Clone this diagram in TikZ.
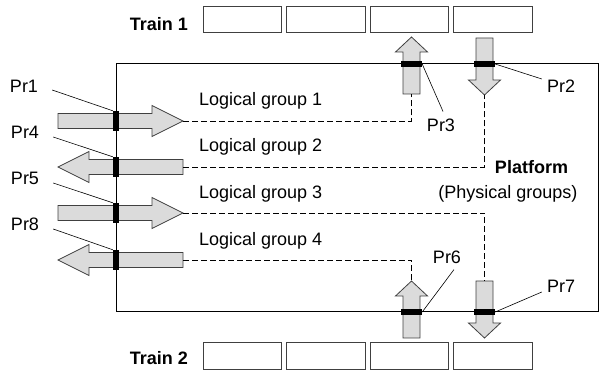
\documentclass[tikz,border=0pt]{standalone}
\usepackage{fontspec}
\setmainfont{Liberation Sans}
\usetikzlibrary{positioning}

\begin{document}
\begin{tikzpicture}[x=1pt, y=-1pt, font=\fontsize{18}{21}\selectfont]
        \tikzset{car/.style = {draw=black!75, line width=1pt, minimum width=78.5pt, minimum height=26.5pt, inner sep=0pt, outer sep=0pt}}
        \tikzset{blk/.style = {draw=black!75, fill=black!14, line width=0.8pt}}
        \tikzset{hport/.style = {fill=black, inner sep=0pt, minimum width=6pt, minimum height=20pt}}
        \tikzset{vport/.style = {fill=black, inner sep=0pt, minimum width=21pt, minimum height=6pt}}
        \tikzset{lbl/.style = {inner sep=0pt}}
        \tikzset{lead/.style = {line width=0.6pt}}
        \tikzset{link/.style = {dash pattern=on 6pt off 3pt, line width=0.8pt}}
        \tikzset{harrow/.pic = {
            \draw[blk] (0,-7.5) -- (94,-7.5) -- (94,-15.5) -- (125,0) -- (94,15.5) -- (94,7.5) -- (0,7.5) -- cycle;
            \coordinate (-tail) at (0,0);
            \coordinate (-tip) at (125,0);}}
        \tikzset{varrow/.pic = {
            \draw[blk] (0,-8.5) -- (42,-8.5) -- (42,-16) -- (57,0) -- (42,16) -- (42,8.5) -- (0,8.5) -- cycle;
            \coordinate (-tail) at (0,0);
            \coordinate (-tip) at (57,0);}}
        \useasboundingbox (0,0) rectangle (600,371);
        % trains
        \node[lbl, anchor=base east] (train1) at (188,31) {\bfseries Train 1};
        \node[car] (t1a) at (242.25,19.75) {};
        \node[car, right=5pt of t1a] (t1b) {};
        \node[car, right=5pt of t1b] (t1c) {};
        \node[car, right=5pt of t1c] (t1d) {};
        \node[lbl, anchor=base east] (train2) at (188,365) {\bfseries Train 2};
        \node[car] (t2a) at (242.25,356) {};
        \node[car, right=5pt of t2a] (t2b) {};
        \node[car, right=5pt of t2b] (t2c) {};
        \node[car, right=5pt of t2c] (t2d) {};
        % platform
        \node[draw, line width=1pt, inner sep=0pt, outer sep=0pt, minimum width=482pt, minimum height=248pt] (plat) at (357,188) {};
        \node[lbl, anchor=base] (platname) at (531.5,174) {\bfseries Platform};
        \node[lbl, anchor=base] (physgrp) at (508,199) {(Physical groups)};
        % block arrows
        \pic (a1) at (58,121) {harrow};
        \pic[rotate=180] (a4) at (183,167) {harrow};
        \pic (a5) at (58,213) {harrow};
        \pic[rotate=180] (a8) at (183,260) {harrow};
        \pic[rotate=90] (a3) at (411.5,94) {varrow};
        \pic[rotate=-90] (a2) at (484.5,38) {varrow};
        \pic[rotate=90] (a6) at (411.5,338) {varrow};
        \pic[rotate=-90] (a7) at (484.5,281) {varrow};
        % ports
        \node[hport] (m1) at (plat.west |- a1-tail) {};
        \node[hport] (m4) at (plat.west |- a4-tail) {};
        \node[hport] (m5) at (plat.west |- a5-tail) {};
        \node[hport] (m8) at (plat.west |- a8-tail) {};
        \node[vport] (m3) at (plat.north -| a3-tail) {};
        \node[vport] (m2) at (plat.north -| a2-tail) {};
        \node[vport] (m6) at (plat.south -| a6-tail) {};
        \node[vport] (m7) at (plat.south -| a7-tail) {};
        % port labels
        \node[lbl] (pr1) at (24,86) {Pr1};
        \node[lbl] (pr4) at (25,132) {Pr4};
        \node[lbl] (pr5) at (25,178) {Pr5};
        \node[lbl] (pr8) at (25,224) {Pr8};
        \node[lbl] (pr3) at (441,125) {Pr3};
        \node[lbl] (pr2) at (561,86) {Pr2};
        \node[lbl] (pr6) at (447,257) {Pr6};
        \node[lbl] (pr7) at (561,286) {Pr7};
        \draw[lead] ([shift={(14,4)}]pr1.east) -- (m1.north west);
        \draw[lead] ([shift={(14,5)}]pr4.east) -- (m4.north west);
        \draw[lead] ([shift={(14,5)}]pr5.east) -- (m5.north west);
        \draw[lead] ([shift={(14,5)}]pr8.east) -- (m8.north west);
        \draw[lead] (m3.east) -- ([shift={(2,-7)}]pr3.north);
        \draw[lead] (m2.east) -- ([shift={(-5,-7)}]pr2.west);
        \draw[lead] (m6.east) -- ([shift={(7,6)}]pr6.south);
        \draw[lead] (m7.east) -- ([shift={(-5,6)}]pr7.west);
        % logical groups
        \node[lbl, anchor=base west] (lg1) at (199,106) {Logical group 1};
        \node[lbl, anchor=base west] (lg2) at (199,152) {Logical group 2};
        \node[lbl, anchor=base west] (lg3) at (199,199) {Logical group 3};
        \node[lbl, anchor=base west] (lg4) at (199,246) {Logical group 4};
        \draw[link] (a1-tip) -| (a3-tail);
        \draw[link] (a4-tail) -| (a2-tip);
        \draw[link] (a5-tip) -| (a7-tail);
        \draw[link] (a8-tail) -| (a6-tip);
\end{tikzpicture}
\end{document}
